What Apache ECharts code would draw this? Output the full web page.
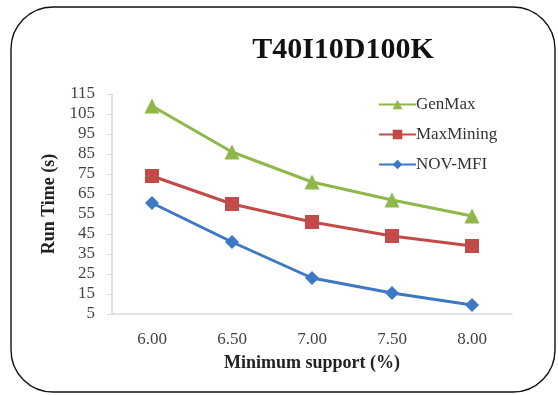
<!DOCTYPE html>
<html>
<head>
<meta charset="utf-8">
<script src="https://cdn.jsdelivr.net/npm/echarts@6/dist/echarts.min.js"></script>
<style>
html,body{margin:0;padding:0;background:#fff;}
#chart{width:558px;height:395px;}
</style>
</head>
<body>
<div id="chart"></div>
<script>
var categories = ['6.00', '6.50', '7.00', '7.50', '8.00'];
var genMax = [109, 86, 71, 62, 54];
var maxMining = [74, 60, 51, 44, 39];
var novMfi = [60.5, 41, 23, 15.5, 9.5];
var yMin = 5, yMax = 115, yStep = 10;

var serif = '"Liberation Serif", "DejaVu Serif", serif';
var chart = echarts.init(document.getElementById('chart'));
chart.setOption({
  animation: false,
  backgroundColor: '#fff',
  graphic: [{
    type: 'rect',
    shape: {x: 11, y: 7, width: 544, height: 385, r: 42},
    style: {fill: 'none', stroke: '#111', lineWidth: 1.4},
    z: -1
  }],
  title: {
    text: 'T40I10D100K',
    left: 338, top: 30, textAlign: 'center',
    textStyle: {fontFamily: serif, fontWeight: 'bold', fontSize: 30, color: '#111'}
  },
  legend: {
    orient: 'vertical',
    left: 373, top: 91,
    itemWidth: 37, itemHeight: 12, itemGap: 13,
    textStyle: {fontFamily: serif, fontSize: 17, color: '#333', padding: [0,0,0,-5]},
    data: ['GenMax', 'MaxMining', 'NOV-MFI']
  },
  grid: {left: 112, right: 46, top: 94, bottom: 81},
  xAxis: {
    type: 'category',
    data: categories,
    boundaryGap: true,
    name: 'Minimum support (%)',
    nameLocation: 'middle',
    nameGap: 40,
    nameTextStyle: {fontFamily: serif, fontWeight: 'bold', fontSize: 18, color: '#222'},
    axisLine: {lineStyle: {color: '#d9d9d9', width: 1.5}},
    axisTick: {show: false},
    axisLabel: {fontFamily: serif, fontSize: 17, color: '#444', margin: 17}
  },
  yAxis: {
    type: 'value',
    min: yMin, max: yMax, interval: yStep,
    name: 'Run Time (s)',
    nameLocation: 'middle',
    nameGap: 53,
    nameRotate: 90,
    nameTextStyle: {fontFamily: serif, fontWeight: 'bold', fontSize: 18, color: '#222'},
    axisLine: {show: true, lineStyle: {color: '#d9d9d9', width: 1.5}},
    axisTick: {show: true, length: 5, lineStyle: {color: '#d9d9d9'}},
    splitLine: {show: false},
    axisLabel: {fontFamily: serif, fontSize: 17, color: '#444', margin: 17}
  },
  series: [
    {name: 'GenMax', type: 'line', data: genMax, symbol: 'triangle', symbolSize: 15,
     itemStyle: {color: '#8fb74a'}, lineStyle: {width: 3, color: '#8fb74a'}},
    {name: 'MaxMining', type: 'line', data: maxMining, symbol: 'rect', symbolSize: 14,
     itemStyle: {color: '#c24a47'}, lineStyle: {width: 3, color: '#c24a47'}},
    {name: 'NOV-MFI', type: 'line', data: novMfi, symbol: 'diamond', symbolSize: 14,
     itemStyle: {color: '#3c78c3'}, lineStyle: {width: 3, color: '#3c78c3'}}
  ]
});
</script>
</body>
</html>
